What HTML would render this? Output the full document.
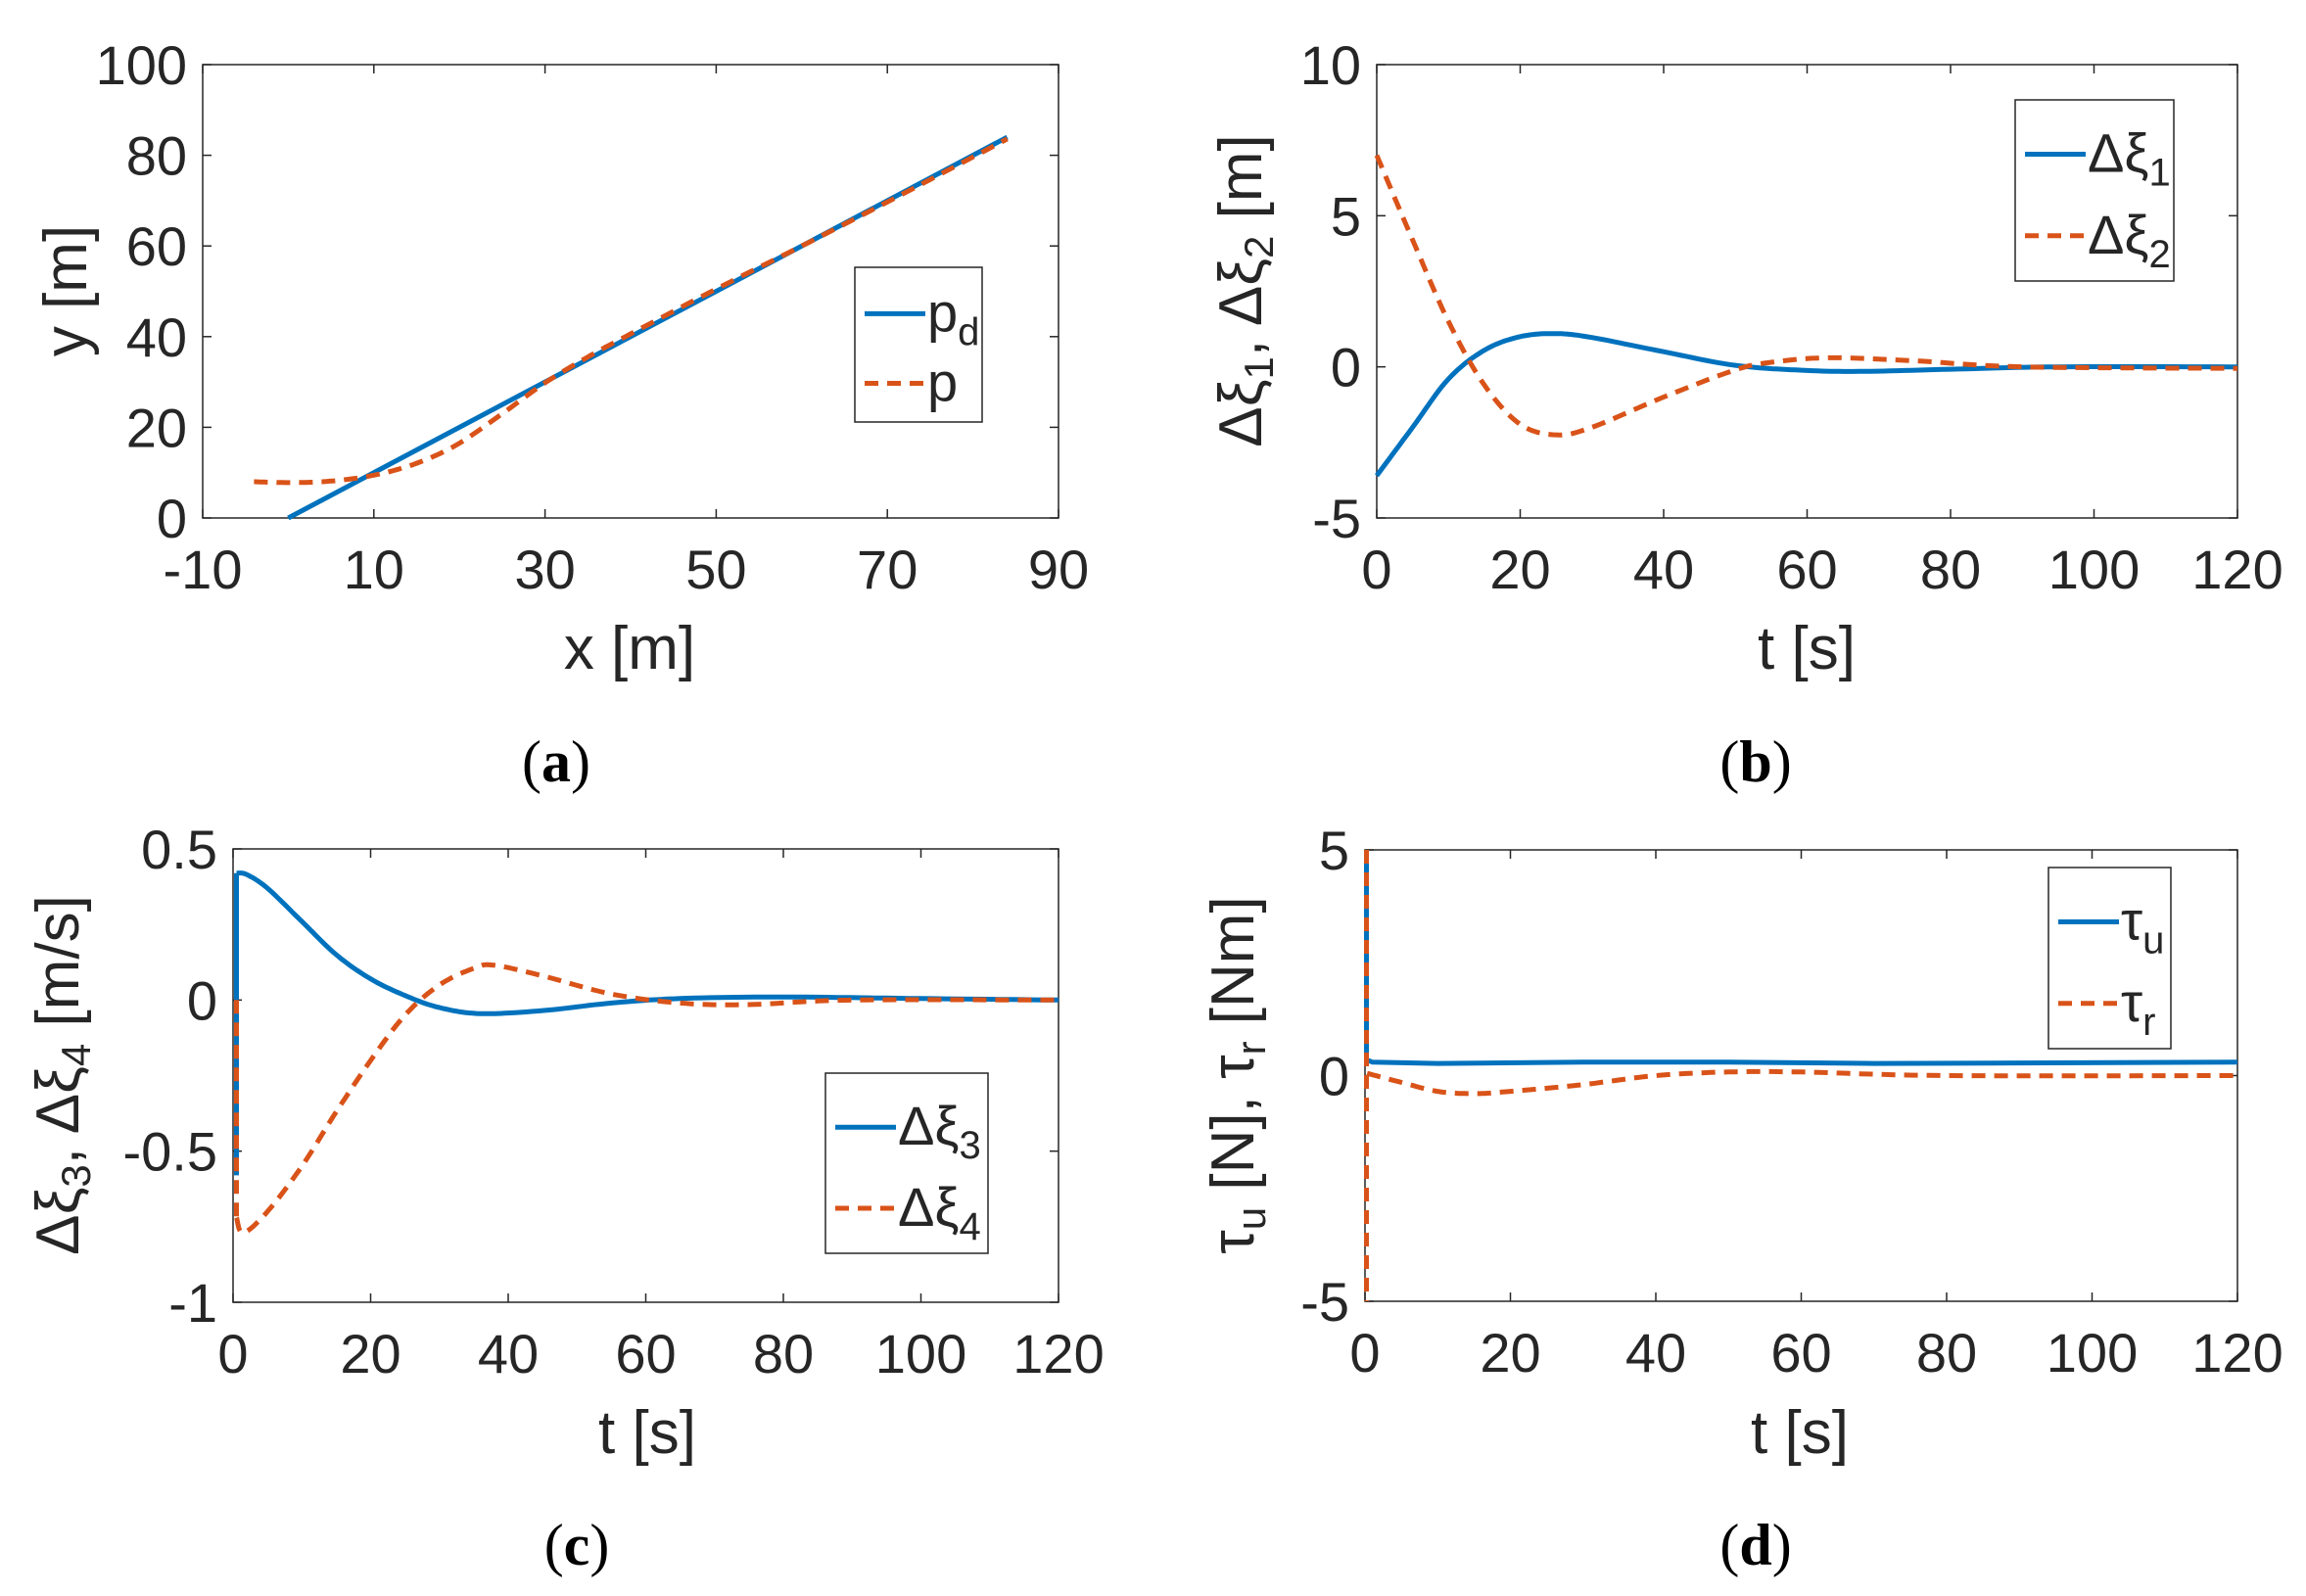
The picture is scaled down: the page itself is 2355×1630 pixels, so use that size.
<!DOCTYPE html>
<html><head><meta charset="utf-8"><style>
html,body{margin:0;padding:0;background:#fff;}
svg{display:block;}
text{font-family:"Liberation Sans",sans-serif;fill:#262626;}
.tk{font-size:56px;}
.al{font-size:62px;}
.cap{font-family:"Liberation Serif",serif;font-size:60px;fill:#000;}
</style></head><body>
<svg id="s" width="2355" height="1630" viewBox="0 0 2355 1630" xmlns="http://www.w3.org/2000/svg"></svg>
<script>
const S=document.getElementById('s');let h='';
function cr(pts,n){const out=[];for(let i=0;i<pts.length-1;i++){const p0=pts[Math.max(0,i-1)],p1=pts[i],p2=pts[i+1],p3=pts[Math.min(pts.length-1,i+2)];for(let k=0;k<n;k++){const t=k/n,t2=t*t,t3=t2*t;const f=(a,b,c,d)=>0.5*((2*b)+(-a+c)*t+(2*a-5*b+4*c-d)*t2+(-a+3*b-3*c+d)*t3);out.push([f(p0[0],p1[0],p2[0],p3[0]),f(p0[1],p1[1],p2[1],p3[1])]);}}out.push(pts[pts.length-1]);return out;}
function ax(o){const {L,R,T,B,x0,x1,y0,y1,xt,yt,xl,yl}=o;
 const X=v=>L+(v-x0)/(x1-x0)*(R-L),Y=v=>B-(v-y0)/(y1-y0)*(B-T);
 h+=`<rect x="${L}" y="${T}" width="${R-L}" height="${B-T}" fill="none" stroke="#262626" stroke-width="1.5"/>`;
 xt.forEach(v=>{const x=X(v);h+=`<line x1="${x}" y1="${B}" x2="${x}" y2="${B-9}" stroke="#262626" stroke-width="1.5"/><line x1="${x}" y1="${T}" x2="${x}" y2="${T+9}" stroke="#262626" stroke-width="1.5"/><text class="tk" x="${x}" y="${B+72}" text-anchor="middle">${v}</text>`;});
 yt.forEach(v=>{const y=Y(v);h+=`<line x1="${L}" y1="${y}" x2="${L+9}" y2="${y}" stroke="#262626" stroke-width="1.5"/><line x1="${R}" y1="${y}" x2="${R-9}" y2="${y}" stroke="#262626" stroke-width="1.5"/><text class="tk" x="${L-16}" y="${y+20}" text-anchor="end">${v}</text>`;});
 h+=`<text class="al" x="${xl[0]}" y="${xl[1]}" text-anchor="middle">${xl[2]}</text>`;
 h+=`<text class="al" transform="translate(${yl[0]},${yl[1]}) rotate(-90)" text-anchor="middle">${yl[2]}</text>`;
 return {X,Y};}
function line(m,segs,col,dash){let d='';segs.forEach(s=>{const p=s.smooth?cr(s.pts,12):s.pts;d+='M'+p.map(q=>m.X(q[0]).toFixed(1)+','+m.Y(q[1]).toFixed(1)).join('L');});
 h+=`<path d="${d}" fill="none" stroke="${col}" stroke-width="5" ${dash?'stroke-dasharray="14,9"':''} stroke-linejoin="round"/>`;}
function leg(x,y,w,hh,l1,l2){h+=`<rect x="${x}" y="${y}" width="${w}" height="${hh}" fill="#fff" stroke="#262626" stroke-width="1.5"/>`;
 const y1=y+hh*0.3,y2=y+hh*0.75;
 h+=`<line x1="${x+10}" y1="${y1}" x2="${x+72}" y2="${y1}" stroke="#0072BD" stroke-width="5"/><line x1="${x+10}" y1="${y2}" x2="${x+72}" y2="${y2}" stroke="#D95319" stroke-width="5" stroke-dasharray="14,9"/>`;
 h+=`<text x="${x+74}" y="${y1+18}" style="font-size:56px">${l1}</text><text x="${x+74}" y="${y2+18}" style="font-size:56px">${l2}</text>`;}
const B='#0072BD',O='#D95319';
// a
let m=ax({L:207,R:1081,T:66,B:529,x0:-10,x1:90,y0:0,y1:100,xt:[-10,10,30,50,70,90],yt:[0,20,40,60,80,100],xl:[643,683,'x [m]'],yl:[88,297,'y [m]']});
line(m,[{pts:[[0,0],[84,84]]}],B);
line(m,[{smooth:1,pts:[[-4,8],[0,7.8],[4,8],[8,8.8],[12,10.3],[16,12.8],[20,16.5],[25,23],[30,29.8],[35,35.5],[40,40.6],[50,50.5],[60,60],[70,69.7],[84,83.6]]}],O,1);
leg(873,273,130,158,'p<tspan dy="14" style="font-size:40px">d</tspan>','p');
// b
m=ax({L:1406,R:2285,T:66,B:529,x0:0,x1:120,y0:-5,y1:10,xt:[0,20,40,60,80,100,120],yt:[-5,0,5,10],xl:[1845,683,'t [s]'],yl:[1288,297,'Δξ<tspan dy="12" style="font-size:42px">1</tspan><tspan dy="-12">, Δξ</tspan><tspan dy="12" style="font-size:42px">2</tspan><tspan dy="-12"> [m]</tspan>']});
line(m,[{smooth:1,pts:[[0,-3.6],[5,-2],[10,-0.4],[15,0.55],[20,1.0],[25,1.1],[30,0.97],[40,0.5],[50,0.05],[60,-0.12],[68,-0.15],[80,-0.08],[95,0],[120,0]]}],B);
line(m,[{smooth:1,pts:[[0,7],[5,4.2],[10,1.5],[15,-0.6],[20,-1.9],[25,-2.25],[30,-2.0],[40,-1.0],[50,-0.1],[55,0.15],[63,0.3],[75,0.2],[90,0],[120,-0.05]]}],O,1);
leg(2058,102,162,185,'Δξ<tspan dy="14" style="font-size:40px">1</tspan>','Δξ<tspan dy="14" style="font-size:40px">2</tspan>');
// c
m=ax({L:238,R:1081,T:867,B:1330,x0:0,x1:120,y0:-1,y1:0.5,xt:[0,20,40,60,80,100,120],yt:[-1,-0.5,0,0.5],xl:[661,1484,'t [s]'],yl:[80,1098,'Δξ<tspan dy="12" style="font-size:42px">3</tspan><tspan dy="-12">, Δξ</tspan><tspan dy="12" style="font-size:42px">4</tspan><tspan dy="-12"> [m/s]</tspan>']});
line(m,[{pts:[[0.5,-0.58],[0.5,0.42]]},{smooth:1,pts:[[0.5,0.42],[2,0.415],[5,0.37],[10,0.26],[15,0.15],[20,0.07],[25,0.015],[30,-0.025],[36,-0.045],[45,-0.035],[55,-0.01],[65,0.005],[80,0.01],[100,0.005],[120,0]]}],B);
line(m,[{pts:[[0.5,0],[0.5,-0.72]]},{smooth:1,pts:[[0.5,-0.72],[1.5,-0.77],[5,-0.7],[10,-0.55],[15,-0.37],[20,-0.2],[25,-0.05],[30,0.05],[35,0.105],[38,0.115],[45,0.08],[55,0.02],[65,-0.01],[75,-0.015],[90,0],[120,0]]}],O,1);
leg(843,1096,166,184,'Δξ<tspan dy="14" style="font-size:40px">3</tspan>','Δξ<tspan dy="14" style="font-size:40px">4</tspan>');
// d
m=ax({L:1394,R:2285,T:868,B:1329,x0:0,x1:120,y0:-5,y1:5,xt:[0,20,40,60,80,100,120],yt:[-5,0,5],xl:[1838,1484,'t [s]'],yl:[1280,1098,'τ<tspan dy="12" style="font-size:42px">u</tspan><tspan dy="-12"> [N], τ</tspan><tspan dy="12" style="font-size:42px">r</tspan><tspan dy="-12"> [Nm]</tspan>']});
line(m,[{pts:[[0.2,5],[0.2,0.35],[1,0.3],[10,0.27],[30,0.3],[50,0.3],[70,0.27],[90,0.28],[120,0.3]]}],B);
line(m,[{pts:[[0.2,5],[0.2,-5]]},{smooth:1,pts:[[0.3,0.05],[5,-0.15],[10,-0.35],[15,-0.4],[20,-0.35],[30,-0.2],[40,0],[50,0.08],[60,0.08],[80,0],[120,0]]}],O,1);
leg(2092,886,125,185,'τ<tspan dy="14" style="font-size:40px">u</tspan>','τ<tspan dy="14" style="font-size:40px">r</tspan>');
// captions
[[568,798,'a'],[1793,798,'b'],[589,1598,'c'],[1793,1598,'d']].forEach(c=>{h+=`<text class="cap" x="${c[0]}" y="${c[1]}" text-anchor="middle">(<tspan font-weight="bold">${c[2]}</tspan>)</text>`;});
S.innerHTML=h;
</script>
</body></html>
